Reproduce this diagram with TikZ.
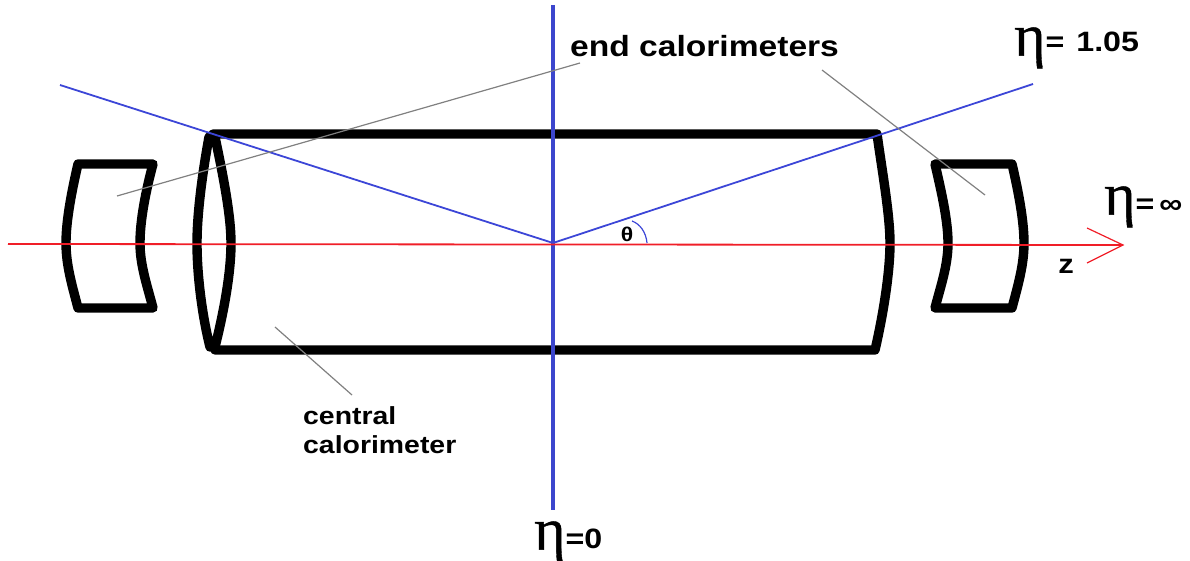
\documentclass[tikz,border=0pt]{standalone}
\usepackage{fontspec}
\setmainfont[FakeStretch=1.15]{Liberation Sans}
\newfontfamily\etafont[FakeBold=0.6]{Liberation Serif}
\tikzset{
  px/.style={x=1pt,y=-1pt},
  wall/.style={draw=black,line width=9.4pt,line join=round,line cap=round},
  ray/.style={draw={rgb,255:red,60;green,70;blue,215},line width=1.8pt},
  central/.style={draw={rgb,255:red,60;green,70;blue,205},line width=3.8pt},
  beam/.style={draw={rgb,255:red,240;green,30;blue,40},line width=1.8pt},
  leader/.style={draw=gray,line width=1.2pt},
  lab/.style={inner sep=0pt,font=\bfseries\fontsize{29.2}{30}\selectfont},
  labs/.style={inner sep=0pt,align=left,font=\bfseries\fontsize{24.7}{29}\selectfont},
  etalab/.style={inner sep=0pt,anchor=base west,font=\bfseries\fontsize{28}{30}\selectfont},
}
\newcommand{\etasym}[1]{\raisebox{#1}{\etafont\mdseries\fontsize{60}{60}\selectfont η}}
\begin{document}
\begin{tikzpicture}[px]
\useasboundingbox (0,0) rectangle (1190,561);
% named points
\coordinate (origin) at (553,243);
\coordinate (vtop) at (553,5);
\coordinate (vbot) at (553,510);
\coordinate (rayL) at (60,85);
\coordinate (rayR) at (1033,84);
\coordinate (zstart) at (8,244);
\coordinate (ztip) at (1123,245);
\coordinate (arrowA) at (1087,228);
\coordinate (arrowB) at (1087,263);
\coordinate (endL) at (117,196);
\coordinate (endLs) at (580,63);
\coordinate (endR) at (985,195);
\coordinate (endRs) at (822,70);
\coordinate (cenS) at (352,395);
\coordinate (cenE) at (275,327);
\coordinate (thetaA) at (632,221);
\coordinate (thetaB) at (647,243);
% calorimeter walls
\draw[wall] (78,164) -- (153,164) .. controls (146,190) and (140,220) .. (140,243) .. controls (140,265) and (147,285) .. (153,308) -- (78,308) .. controls (72,285) and (66,265) .. (66,243) .. controls (66,220) and (72,190) .. (78,164) -- cycle;
\draw[wall] (209,137) .. controls (202,175) and (197,215) .. (197,243) .. controls (197,275) and (202,315) .. (210,347) -- (215,347) .. controls (223,315) and (231,275) .. (231,243) .. controls (231,215) and (223,175) .. (215,137) -- cycle;
\draw[wall] (213,134) -- (877,134) .. controls (882,170) and (890,215) .. (890,243) .. controls (890,275) and (882,320) .. (875,350) -- (215,350);
\draw[wall] (935,164) -- (1012,164) .. controls (1018,190) and (1024,220) .. (1024,243) .. controls (1024,265) and (1018,285) .. (1012,308) -- (935,308) .. controls (941,285) and (948,265) .. (948,243) .. controls (948,220) and (941,190) .. (935,164) -- cycle;
% axes and rays
\draw[central] (vtop) -- (vbot);
\draw[ray] (rayL) -- (origin) -- (rayR);
\draw[beam] (zstart) -- (ztip);
\draw[beam,line width=1.2pt] (arrowA) -- (ztip) -- (arrowB);
\draw[ray,line width=1.2pt] (thetaA) .. controls (640,224) and (646,232) .. (thetaB);
% leaders
\draw[leader] (endLs) -- (endL);
\draw[leader] (endRs) -- (endR);
\draw[leader] (cenS) -- (cenE);
% labels
\node[lab,anchor=base west] (endlab) at (570,57) {end calorimeters};
\node[labs,anchor=base west] (cenlab) at (303,453) {central\\calorimeter};
\node[inner sep=0pt,font=\bfseries\fontsize{20}{20}\selectfont] (theta) at (627,234) {θ};
\node[inner sep=0pt,anchor=base,font=\bfseries\fontsize{27}{27}\selectfont] (z) at (1066,273) {z};
\node[etalab] (eta105) at (1014,52) {\etasym{-3.6pt}=\kern12pt 1.05};
\node[etalab] (etainf) at (1104,214) {\etasym{-0.6pt}=\kern5pt ∞};
\node[etalab] (eta0) at (534,548) {\etasym{-1.6pt}=\kern0pt 0};
\end{tikzpicture}
\end{document}
